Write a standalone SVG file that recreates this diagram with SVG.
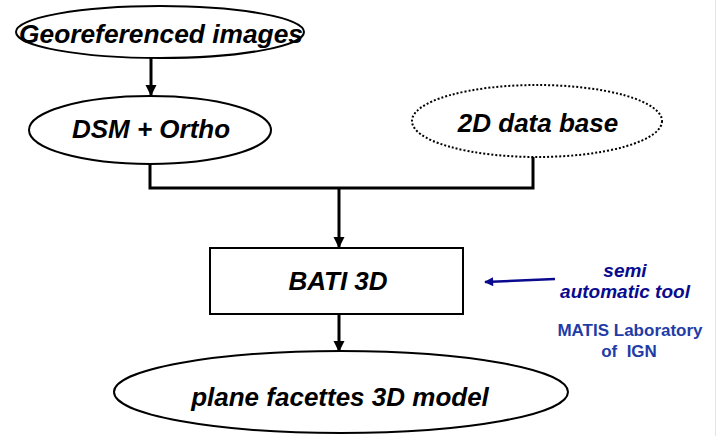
<svg xmlns="http://www.w3.org/2000/svg" width="718" height="436" viewBox="0 0 718 436">
  <style>
    .shape { fill: #ffffff; stroke: #000000; stroke-width: 2; }
    .dotted { fill: #ffffff; stroke: #000000; stroke-width: 2; stroke-dasharray: 2 2; }
    .lbl { font-family: "Liberation Sans", Arial, sans-serif; font-weight: bold; font-style: italic; font-size: 26px; fill: #000000; text-anchor: middle; }
    .conn { fill: none; stroke: #000000; stroke-width: 3; }
    .blue { fill: none; stroke: #0a0a8f; stroke-width: 2.6; }
    .note { font-family: "Liberation Sans", Arial, sans-serif; font-weight: bold; font-style: italic; font-size: 19px; fill: #0a0a8f; text-anchor: middle; }
    .lab { font-family: "Liberation Sans", Arial, sans-serif; font-weight: bold; font-size: 17px; fill: #1f3ca6; text-anchor: middle; white-space: pre; }
  </style>
  <defs>
    <marker id="ah" viewBox="0 0 10 10" refX="9" refY="5" markerUnits="userSpaceOnUse" markerWidth="11" markerHeight="12" orient="auto">
      <path d="M0,0 L10,5 L0,10 z" fill="#000000"/>
    </marker>
    <marker id="ahb" viewBox="0 0 10 10" refX="9" refY="5" markerUnits="userSpaceOnUse" markerWidth="11" markerHeight="9" orient="auto">
      <path d="M0,0 L10,5 L0,10 z" fill="#0a0a8f"/>
    </marker>
  </defs>
  <rect x="0" y="0" width="718" height="436" fill="#ffffff"/>
  <line x1="715.5" y1="0" x2="715.5" y2="436" stroke="#e4e4e4" stroke-width="1"/>

  <g id="connectors">
    <line class="conn" x1="151" y1="58" x2="151" y2="95" marker-end="url(#ah)"/>
    <polyline class="conn" points="150,163 150,188 533,188 533,157"/>
    <line class="conn" x1="339" y1="188" x2="339" y2="247" marker-end="url(#ah)"/>
    <line class="conn" x1="339" y1="315" x2="339" y2="351" marker-end="url(#ah)"/>
    <line class="blue" x1="555" y1="279" x2="485" y2="282" marker-end="url(#ahb)"/>
  </g>

  <g id="georeferenced">
    <ellipse class="shape" cx="160" cy="32" rx="144" ry="26"/>
    <text class="lbl" x="161" y="43" textLength="284" lengthAdjust="spacingAndGlyphs">Georeferenced images</text>
  </g>

  <g id="dsm">
    <ellipse class="shape" cx="150" cy="130" rx="121" ry="34"/>
    <text class="lbl" x="151" y="138">DSM + Ortho</text>
  </g>

  <g id="database2d">
    <ellipse class="dotted" cx="537" cy="121" rx="125" ry="36"/>
    <text class="lbl" x="538" y="132">2D data base</text>
  </g>

  <g id="bati3d">
    <rect class="shape" x="210" y="248" width="253" height="66"/>
    <text class="lbl" x="338" y="290">BATI 3D</text>
  </g>

  <g id="model3d">
    <ellipse class="shape" cx="341" cy="392" rx="227" ry="41"/>
    <text class="lbl" x="340" y="406">plane facettes 3D model</text>
  </g>

  <g id="tool-note">
    <text class="note" x="625" y="277">semi</text>
    <text class="note" x="625" y="298">automatic tool</text>
  </g>

  <g id="lab-note">
    <text class="lab" x="630" y="336">MATIS Laboratory</text>
    <text class="lab" x="629" y="357" xml:space="preserve">of  IGN</text>
  </g>
</svg>
